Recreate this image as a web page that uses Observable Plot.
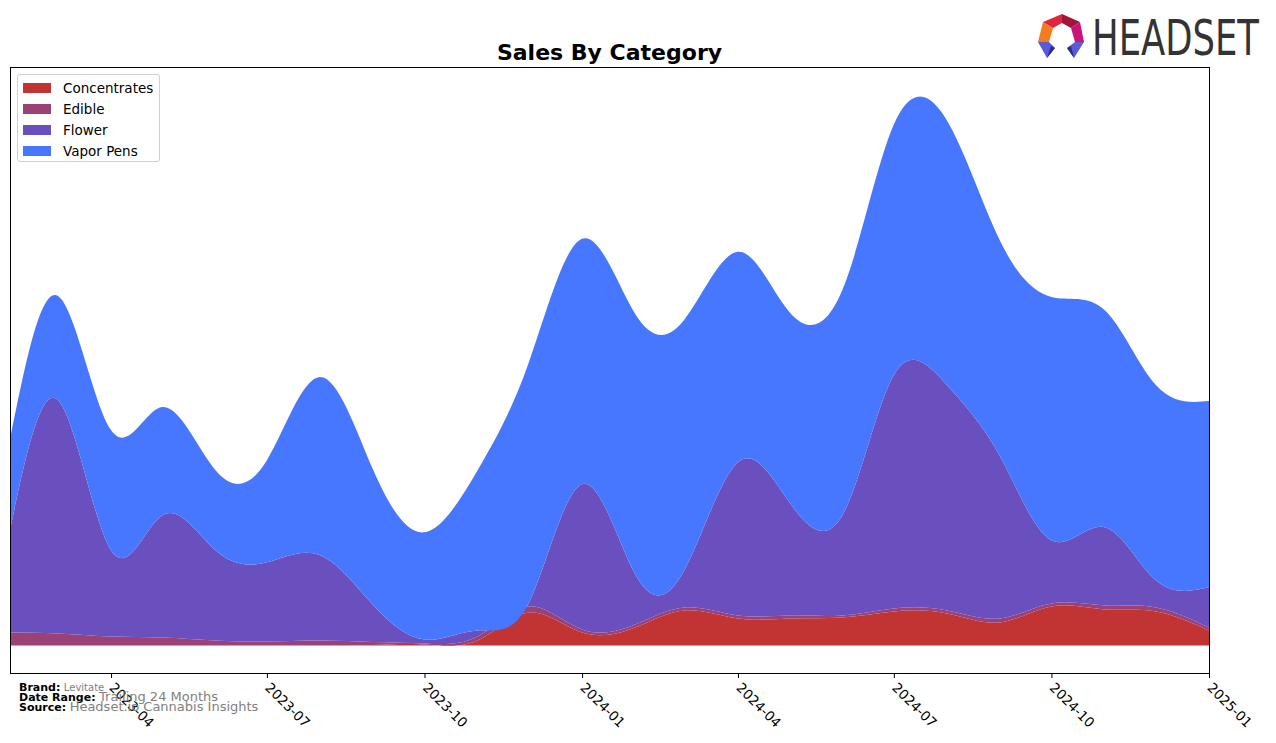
<!DOCTYPE html>
<html>
<head>
<meta charset="utf-8">
<script src="https://cdn.jsdelivr.net/npm/d3@7"></script>
<script src="https://cdn.jsdelivr.net/npm/@observablehq/plot@0.6"></script>
<style>
  html, body { margin: 0; padding: 0; background: #fff; }
  #wrap { position: relative; width: 1276px; height: 743px; overflow: hidden; font-family: "DejaVu Sans", sans-serif; }
  #chart { position: absolute; left: 0; top: 0; }
  #title { position: absolute; left: 10px; width: 1199px; top: 40px; text-align: center; font-weight: bold; font-size: 22px; color: #000; }
  #legend { position: absolute; left: 17px; top: 74px; width: 141px; height: 86px; border: 1px solid #d0d0d0; border-radius: 3px; background: rgba(255,255,255,0.85); font-size: 13.5px; }
  .row { position: absolute; left: 5px; height: 20px; display: flex; align-items: center; }
  .sw { width: 28px; height: 10px; margin-right: 12px; }
  #foot { position: absolute; left: 19px; top: 683px; font-size: 11px; line-height: 9px; }
  #foot div { white-space: nowrap; }
  #foot b { color: #000; }
  #foot span { color: #808080; }
  #logo { position: absolute; left: 1030px; top: 0; }
</style>
</head>
<body>
<div id="wrap">
  <div id="chart"></div>
  <div id="title">Sales By Category</div>
  <div id="legend"></div>
  <div id="foot">
    <div><b>Brand:</b> <span style="font-size:10px">Levitate</span></div>
    <div><b>Date Range:</b> <span style="font-size:13px">Trailing 24 Months</span></div>
    <div><b>Source:</b> <span style="font-size:13px">Headset.io Cannabis Insights</span></div>
  </div>
  <svg id="logo" width="240" height="66" viewBox="1030 0 240 66">
    <polygon points="1038,42 1043,22 1053,28 1049,42" fill="#f47b20"/>
    <polygon points="1043,22 1062,14 1062,23 1053,28" fill="#e0263c"/>
    <polygon points="1062,14 1080,22 1071,28 1062,23" fill="#a3133a"/>
    <polygon points="1080,22 1084,42 1075,42 1071,28" fill="#c8137a"/>
    <polygon points="1038,42 1049,42 1055,48 1047,58" fill="#5a5ad8"/>
    <polygon points="1047,58 1055,48 1051,46" fill="#2b2b8c"/>
    <polygon points="1075,42 1084,42 1074,58 1067,48" fill="#5a5ad8"/>
    <polygon points="1074,58 1067,48 1071,46" fill="#2b2b8c"/>
    <text transform="translate(1092,55) scale(1,1.35)" font-family="DejaVu Sans Condensed, DejaVu Sans, sans-serif" font-size="37" fill="#333" textLength="167" lengthAdjust="spacingAndGlyphs">HEADSET</text>
  </svg>
</div>
<script>
// ---- data (monthly, 2023-02 .. 2025-01) ----
const months = ["2023-02","2023-03","2023-04","2023-05","2023-06","2023-07","2023-08","2023-09","2023-10","2023-11","2023-12","2024-01",
                "2024-02","2024-03","2024-04","2024-05","2024-06","2024-07","2024-08","2024-09","2024-10","2024-11","2024-12","2025-01"];
const categories = ["Concentrates","Edible","Flower","Vapor Pens"];
const colors = ["#c23434","#9a4276","#6a4fbe","#4877ff"];
const concentrates = [0,0,0,0,0,0,0,0.5,1,5,33,13,18,35,27,27,28,34,32,23,39,36,34,15];
const edible       = [13,12,9,8,5,4,5,3,1,4,6,3,3,3,3,3,2,3,3,4,3,4,4,3];
const flower       = [102,233,86,122,90,79,85,37,4,6,4,145,50,38,153,113,100,233,225,162,63,78,27,40];
const vaporPens    = [90,104,120,108,80,102,178,135,107,160,240,245,260,250,210,190,225,250,264,215,243,217,195,186];
const tickDates = ["2023-04","2023-07","2023-10","2024-01","2024-04","2024-07","2024-10","2025-01"];

const series = [concentrates, edible, flower, vaporPens];
const parse = d3.utcParse("%Y-%m");
const data = [];
categories.forEach((c, k) => months.forEach((m, i) => data.push({date: parse(m), value: series[k][i], category: c})));

const chart = Plot.plot({
  width: 1276,
  height: 743,
  marginLeft: 10,
  marginRight: 67,
  marginTop: 67,
  marginBottom: 70,
  style: {fontFamily: "DejaVu Sans, sans-serif", fontSize: "13px", background: "transparent", overflow: "visible"},
  x: {type: "utc", domain: [parse(months[0]), parse(months[months.length - 1])]},
  y: {domain: [-27.5, 577.5], axis: null},
  color: {domain: categories, range: colors},
  marks: [
    Plot.areaY(data, {x: "date", y: "value", z: "category", fill: "category", curve: "natural", fillOpacity: 1, order: categories}),
    Plot.frame({stroke: "black", strokeWidth: 1}),
    Plot.axisX({ticks: tickDates.map(parse), tickFormat: d3.utcFormat("%Y-%m"), tickRotate: 45, tickSize: 5, tickPadding: 7, label: null, fill: "black", stroke: "black", fontSize: 13.5})
  ]
});
document.getElementById("chart").appendChild(chart);

const leg = document.getElementById("legend");
categories.forEach((c, k) => {
  const r = document.createElement("div");
  r.className = "row";
  r.style.top = (3 + k * 21) + "px";
  r.innerHTML = `<div class="sw" style="background:${colors[k]}"></div><div>${c}</div>`;
  leg.appendChild(r);
});
</script>
</body>
</html>
